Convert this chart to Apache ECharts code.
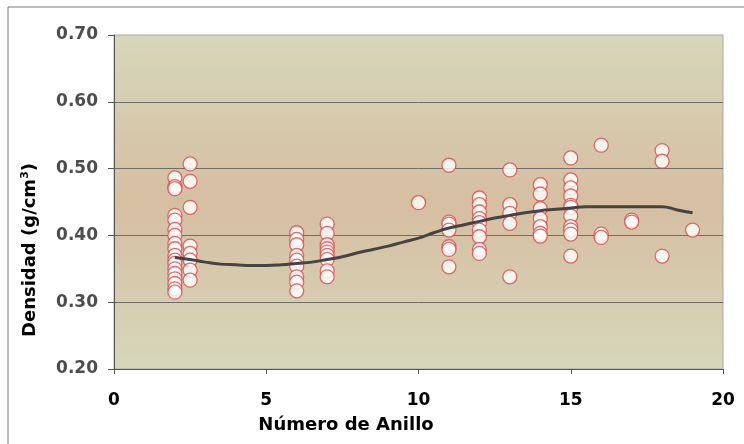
<!DOCTYPE html>
<html>
<head>
<meta charset="utf-8">
<script src="https://cdn.jsdelivr.net/npm/echarts@6/dist/echarts.min.js"></script>
<style>
  html, body { margin: 0; padding: 0; background: #fff; }
  #chart { width: 744px; height: 444px; }
</style>
</head>
<body>
<div id="chart"></div>
<script>
// Número de anillo (x) y densidad (y) de cada muestra
const anillo2 = [0.486, 0.473, 0.470, 0.430, 0.423, 0.409, 0.400, 0.388, 0.380, 0.370, 0.363, 0.358, 0.350, 0.343, 0.335, 0.328, 0.320, 0.315];
const anillo2b = [0.507, 0.481, 0.442, 0.384, 0.373, 0.363, 0.348, 0.333];
const anillo6 = [0.404, 0.394, 0.386, 0.370, 0.363, 0.354, 0.338, 0.330, 0.317];
const anillo7 = [0.417, 0.403, 0.386, 0.380, 0.375, 0.370, 0.364, 0.347, 0.338];
const anillo10 = [0.449];
const anillo11 = [0.505, 0.420, 0.417, 0.408, 0.383, 0.379, 0.353];
const anillo12 = [0.456, 0.446, 0.435, 0.425, 0.419, 0.408, 0.398, 0.379, 0.373];
const anillo13 = [0.498, 0.446, 0.433, 0.418, 0.338];
const anillo14 = [0.476, 0.462, 0.440, 0.425, 0.413, 0.403, 0.399];
const anillo15 = [0.516, 0.483, 0.471, 0.459, 0.445, 0.442, 0.429, 0.413, 0.408, 0.402, 0.369];
const anillo16 = [0.535, 0.402, 0.397];
const anillo17 = [0.423, 0.420];
const anillo18 = [0.527, 0.511, 0.369];
const anillo19 = [0.408];

const columnas = [
  [2, anillo2], [2.5, anillo2b], [6, anillo6], [7, anillo7], [10, anillo10],
  [11, anillo11], [12, anillo12], [13, anillo13], [14, anillo14], [15, anillo15],
  [16, anillo16], [17, anillo17], [18, anillo18], [19, anillo19]
];

// línea de tendencia
const tendX = [2, 2.5, 3, 3.5, 4, 4.5, 5, 5.5, 6, 6.5, 7, 7.5, 8, 8.5, 9, 9.5, 10, 10.5, 11, 11.5, 12, 12.5, 13, 13.5, 14, 14.5, 15, 15.5, 16, 17, 18, 18.5, 19];
const tendY = [0.367, 0.364, 0.360, 0.357, 0.356, 0.355, 0.355, 0.356, 0.358, 0.360, 0.364, 0.368, 0.374, 0.379, 0.384, 0.390, 0.396, 0.404, 0.411, 0.416, 0.421, 0.426, 0.430, 0.434, 0.437, 0.439, 0.441, 0.443, 0.443, 0.443, 0.443, 0.438, 0.434];

const puntos = [];
columnas.forEach(([x, ys]) => ys.forEach((y) => puntos.push([x, y])));
const tendencia = tendX.map((x, i) => [x, tendY[i]]);

const font = "DejaVu Sans";

const chart = echarts.init(document.getElementById("chart"));
chart.setOption({
  animation: false,
  grid: {
    left: 114, top: 35, right: 21, bottom: 75,
    show: true,
    borderColor: "#a8a8a8",
    borderWidth: 1,
    backgroundColor: {
      type: "linear", x: 0, y: 0, x2: 0, y2: 1,
      colorStops: [
        { offset: 0, color: "#d6d7bb" },
        { offset: 0.5, color: "#d6bea1" },
        { offset: 1, color: "#d6d7bb" }
      ]
    }
  },
  graphic: [
    { type: "line", shape: { x1: 8, y1: 7, x2: 744, y2: 7 }, style: { stroke: "#777", lineWidth: 1 } },
    { type: "line", shape: { x1: 8, y1: 7, x2: 8, y2: 444 }, style: { stroke: "#777", lineWidth: 1 } },
    {
      type: "text", x: 346, y: 425,
      style: {
        text: "Número de Anillo", font: "bold 18px " + font, fill: "#000",
        align: "center", verticalAlign: "middle"
      }
    },
    {
      type: "text", x: 30, y: 250, rotation: Math.PI / 2,
      style: {
        text: "Densidad (g/cm{sup|3})",
        font: "bold 18px " + font, fill: "#000",
        align: "center", verticalAlign: "middle",
        rich: { sup: { font: "bold 11px " + font, fill: "#000", padding: [0, 0, 9, 0] } }
      }
    }
  ],
  xAxis: {
    type: "value", min: 0, max: 20, interval: 5,
    axisLine: { show: true, lineStyle: { color: "#555", width: 1 } },
    axisTick: { show: true, length: 5, lineStyle: { color: "#555" } },
    axisLabel: { margin: 23, fontFamily: font, fontWeight: "bold", fontSize: 17, color: "#000" },
    splitLine: { show: false }
  },
  yAxis: {
    type: "value", min: 0.2, max: 0.7, interval: 0.1,
    axisLine: { show: true, lineStyle: { color: "#555", width: 1 } },
    axisTick: { show: true, length: 6, lineStyle: { color: "#555" } },
    axisLabel: {
      margin: 16, fontFamily: font, fontWeight: "bold", fontSize: 17, color: "#4d4d4d",
      formatter: (v) => v.toFixed(2)
    },
    splitLine: { show: true, showMaxLine: false, lineStyle: { color: "#6e6e6e", width: 1 } }
  },
  series: [
    {
      name: "Densidad",
      type: "scatter",
      symbol: "circle",
      symbolSize: 14,
      itemStyle: { color: "#fff", borderColor: "#d94848", borderWidth: 1.3 },
      data: puntos,
      z: 2
    },
    {
      name: "Tendencia",
      type: "line",
      smooth: true,
      symbol: "none",
      lineStyle: { color: "#444", width: 3 },
      data: tendencia,
      z: 3
    }
  ]
});
</script>
</body>
</html>
